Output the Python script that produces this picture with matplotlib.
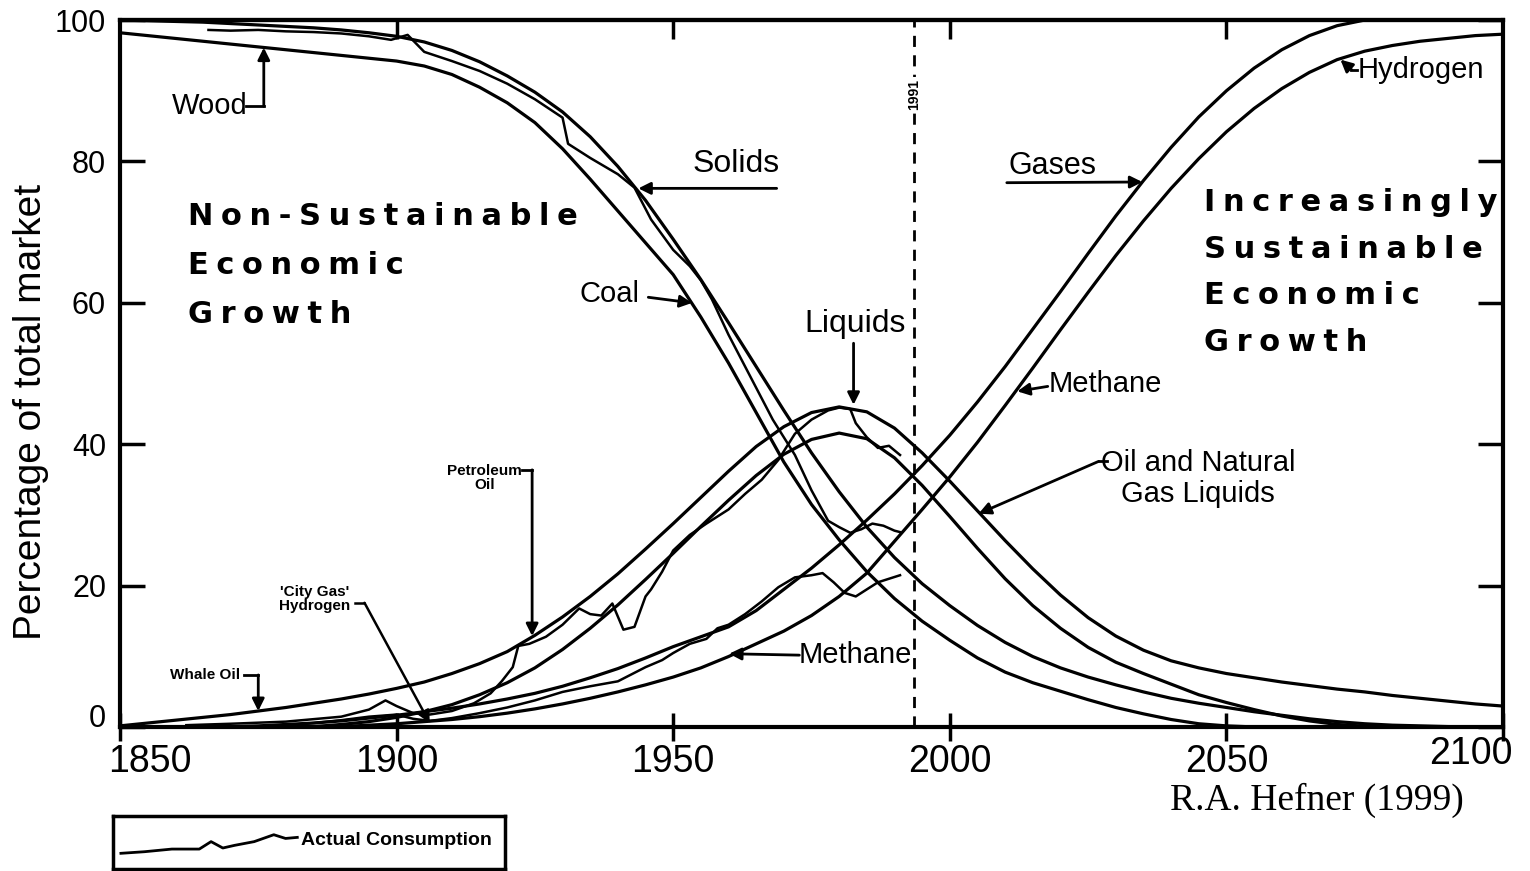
import numpy as np
import matplotlib
matplotlib.use('Agg')
import matplotlib.pyplot as plt
from matplotlib.transforms import ScaledTranslation

plt.rcParams['font.family'] = ['Liberation Sans', 'DejaVu Sans']

# model curves, read every 5 years 1850..2100
years = np.arange(1850, 2101, 5)

solids = [100, 99.9, 99.8, 99.7, 99.5, 99.3, 99.1, 98.9, 98.6, 98.2,
          97.7, 96.9, 95.7, 94.1, 92.1, 89.8, 87.0, 83.5, 79.3, 74.5,
          69.0, 63.3, 57.2, 51.0, 44.8, 38.8, 33.3, 28.3, 24.0, 20.3,
          17.2, 14.4, 12.0, 10.0, 8.4, 7.1, 6.0, 5.0, 4.1, 3.4,
          2.8, 2.2, 1.7, 1.2, 0.8, 0.5, 0.3, 0.2, 0.1, 0.05, 0]

coal = [98.2, 97.8, 97.4, 97.0, 96.6, 96.2, 95.8, 95.4, 95.0, 94.6,
        94.2, 93.5, 92.3, 90.5, 88.3, 85.5, 81.8, 77.5, 73.0, 68.5,
        64.0, 58.0, 51.5, 44.5, 37.5, 31.5, 26.5, 22.0, 18.2, 15.0,
        12.3, 9.8, 7.8, 6.3, 5.1, 3.9, 2.8, 1.9, 1.1, 0.5,
        0.2, 0.05, 0, 0, 0, 0, 0, 0, 0, 0, 0]

liquids = [0.2, 0.6, 1.0, 1.4, 1.8, 2.3, 2.8, 3.4, 4.0, 4.7,
           5.5, 6.4, 7.6, 9.0, 10.7, 13.0, 15.6, 18.5, 21.7, 25.2,
           28.8, 32.5, 36.2, 39.7, 42.5, 44.5, 45.3, 44.6, 42.3, 38.8,
           34.8, 30.6, 26.4, 22.4, 18.7, 15.5, 12.9, 10.9, 9.4, 8.4,
           7.6, 7.0, 6.4, 5.9, 5.4, 5.0, 4.5, 4.1, 3.7, 3.3, 3.0]

oil_ngl = [0, 0, 0, 0, 0, 0, 0, 0.1, 0.4, 0.8,
           1.4, 2.2, 3.2, 4.6, 6.3, 8.4, 11.0, 14.0, 17.3, 20.9,
           24.6, 28.4, 32.1, 35.6, 38.6, 40.7, 41.6, 40.8, 38.1, 34.2,
           29.8, 25.3, 21.0, 17.2, 14.0, 11.3, 9.2, 7.6, 6.1, 4.6,
           3.5, 2.5, 1.6, 0.9, 0.4, 0.15, 0.05, 0, 0, 0, 0]

gases = [0, 0, 0, 0, 0.1, 0.2, 0.4, 0.6, 0.9, 1.3,
         1.7, 2.2, 2.7, 3.3, 4.0, 4.8, 5.8, 7.0, 8.3, 9.8,
         11.4, 12.8, 14.2, 16.5, 19.5, 22.5, 25.8, 29.3, 33.0, 37.0,
         41.3, 46.0, 51.0, 56.3, 61.6, 67.0, 72.3, 77.3, 82.0, 86.3,
         90.0, 93.2, 95.8, 97.8, 99.2, 100, 100, 100, 100, 100, 100]

methane = [0, 0, 0, 0, 0, 0, 0, 0, 0.1, 0.3,
           0.5, 0.8, 1.1, 1.5, 2.0, 2.6, 3.3, 4.1, 5.0, 6.0,
           7.1, 8.4, 10.0, 11.8, 13.6, 15.8, 18.5, 21.8, 26.3, 30.8,
           35.4, 40.3, 45.5, 50.8, 56.2, 61.5, 66.7, 71.6, 76.2, 80.4,
           84.2, 87.5, 90.3, 92.6, 94.4, 95.6, 96.4, 97.0, 97.4, 97.8, 98.0]

# actual consumption (historical, to 1991)
solids_act_years = [1866, 1870, 1875, 1880, 1885, 1890, 1895, 1899, 1902, 1905,
                    1910, 1915, 1920, 1925, 1930, 1931, 1935, 1940, 1943, 1946,
                    1950, 1953, 1955, 1957, 1960, 1964, 1968, 1972, 1975, 1978,
                    1980, 1982, 1984, 1986, 1988, 1990, 1991]
solids_act = [98.6, 98.5, 98.6, 98.4, 98.3, 98.1, 97.7, 97.2, 97.9, 95.5,
              94.2, 92.8, 91.0, 88.8, 86.2, 82.5, 80.5, 78.2, 76.3, 71.8,
              67.5, 65.2, 63.2, 60.5, 55.5, 49.5, 43.5, 38.5, 33.5, 29.2,
              28.3, 27.5, 28.0, 28.8, 28.5, 27.8, 27.6]

liquids_act_years = [1862, 1870, 1880, 1890, 1895, 1898, 1900, 1903, 1906, 1910,
                     1914, 1917, 1919, 1921, 1922, 1924, 1927, 1930, 1933, 1935,
                     1937, 1939, 1941, 1943, 1945, 1946, 1948, 1950, 1953, 1956,
                     1960, 1963, 1966, 1969, 1972, 1975, 1978, 1980, 1982, 1983,
                     1985, 1987, 1989, 1991]
liquids_act = [0.3, 0.5, 0.8, 1.5, 2.5, 3.8, 3.0, 2.0, 1.8, 2.3,
               3.4, 4.8, 6.5, 8.5, 11.5, 11.8, 12.8, 14.5, 16.8, 16.0,
               15.8, 17.5, 13.8, 14.2, 18.5, 19.5, 22.0, 25.0, 27.2, 28.8,
               30.8, 33.0, 35.0, 37.8, 41.5, 43.5, 44.8, 45.2, 45.0, 43.0,
               41.0, 39.5, 39.8, 38.5]

gases_act_years = [1880, 1885, 1890, 1895, 1900, 1903, 1906, 1910, 1915, 1920,
                   1925, 1930, 1935, 1940, 1945, 1948, 1950, 1953, 1956, 1958,
                   1960, 1963, 1966, 1969, 1972, 1975, 1977, 1979, 1981, 1983,
                   1985, 1987, 1989, 1991]
gases_act = [0.3, 0.6, 1.0, 1.5, 1.8, 1.2, 0.9, 1.3, 2.0, 2.8,
             3.8, 5.0, 5.8, 6.5, 8.5, 9.5, 10.5, 11.8, 12.5, 14.0,
             14.5, 16.0, 17.8, 19.8, 21.2, 21.5, 21.8, 20.5, 19.0, 18.5,
             19.5, 20.5, 21.0, 21.5]

# little sample squiggle drawn in the legend box
legend_x = [0.02, 0.08, 0.15, 0.22, 0.25, 0.28, 0.31, 0.36, 0.41, 0.44, 0.47]
legend_y = [0.30, 0.33, 0.38, 0.38, 0.52, 0.40, 0.45, 0.52, 0.65, 0.58, 0.60]

xticks = [1850, 1900, 1950, 2000, 2050, 2100]
yticks = [0, 20, 40, 60, 80, 100]

fig = plt.figure(figsize=(15.3, 8.71), dpi=100)
ax = fig.add_axes([0.0784, 0.165, 0.904, 0.812])

for s in [solids, coal, liquids, oil_ngl, gases, methane]:
    ax.plot(years, s, color='black', lw=2.3, solid_capstyle='round')
ax.plot(solids_act_years, solids_act, color='black', lw=1.8)
ax.plot(liquids_act_years, liquids_act, color='black', lw=1.8)
ax.plot(gases_act_years, gases_act, color='black', lw=1.8)

ax.axvline(1993.5, color='black', lw=2, ls=(0, (4, 3)))
ax.text(1993.5, 89.5, '1991', rotation=90, ha='center', va='center',
        fontsize=10, fontweight='bold',
        bbox=dict(facecolor='white', edgecolor='none', pad=1))

ax.set_xlim(1850, 2100)
ax.set_ylim(0, 100)
ax.set_xticks(xticks)
ax.set_yticks(yticks)
ax.tick_params(axis='y', direction='in', length=18, width=2.5, right=True,
               labelsize=22, pad=10)
ax.tick_params(axis='x', direction='inout', length=20, width=2.5, top=False,
               labelsize=27, pad=2)
for sp in ax.spines.values():
    sp.set_linewidth(3)

# short inward ticks along the top
top = ax.secondary_xaxis('top')
top.set_xticks(xticks[1:-1])
top.tick_params(direction='in', length=14, width=2.5, labeltop=False)
top.spines['top'].set_linewidth(3)

# nudge edge labels the way the original has them
lbl0 = ax.get_yticklabels()[0]
lbl0.set_transform(lbl0.get_transform() + ScaledTranslation(0, 12 / 100, fig.dpi_scale_trans))
xl = ax.get_xticklabels()
xl[0].set_transform(xl[0].get_transform() + ScaledTranslation(30 / 100, 0, fig.dpi_scale_trans))
xl[-1].set_transform(xl[-1].get_transform() + ScaledTranslation(-32 / 100, 8 / 100, fig.dpi_scale_trans))

fig.text(0.02, 0.527, 'Percentage of total market', rotation=90,
         ha='center', va='center', fontsize=28)


def arrow(tail, tip, lw=2):
    ax.annotate('', xy=tip, xytext=tail,
                arrowprops=dict(arrowstyle='-|>', color='black', lw=lw,
                                mutation_scale=18, shrinkA=0, shrinkB=0))


# curve labels
ax.text(1866.3, 87.8, 'Wood', ha='center', va='center', fontsize=21)
ax.plot([1872.8, 1876], [87.8, 87.8], color='black', lw=2)
arrow((1876, 87.8), (1876, 96.1))

ax.text(1961.4, 79.6, 'Solids', ha='center', va='center', fontsize=23)
arrow((1968.7, 76.2), (1943.7, 76.2))

ax.text(1938.4, 61.3, 'Coal', ha='center', va='center', fontsize=21)
arrow((1945.5, 60.8), (1953.4, 60.0))

ax.text(1982.8, 57.0, 'Liquids', ha='center', va='center', fontsize=23)
arrow((1982.6, 54.3), (1982.6, 45.6))

ax.text(2018.5, 79.4, 'Gases', ha='center', va='center', fontsize=22)
arrow((2010.3, 77.0), (2034.8, 77.1))

ax.text(2073.8, 93.0, 'Hydrogen', ha='left', va='center', fontsize=21)
ax.plot([2073.6, 2072.6], [93.0, 93.0], color='black', lw=2)
arrow((2072.6, 93.0), (2070.6, 94.4))

ax.text(2017.9, 48.5, 'Methane', ha='left', va='center', fontsize=21)
arrow((2017.7, 48.2), (2012.2, 47.5))

ax.text(2044.9, 35.2, 'Oil and Natural\nGas Liquids', ha='center', va='center',
        fontsize=21, linespacing=1.15)
ax.plot([2028.5, 2026.9], [37.6, 37.6], color='black', lw=2)
arrow((2026.9, 37.6), (2005.2, 30.2))

ax.text(1972.6, 10.2, 'Methane', ha='left', va='center', fontsize=21)
arrow((1972.8, 10.2), (1960.1, 10.4))

ax.text(1915.9, 35.2, 'Petroleum\nOil', ha='center', va='center', fontsize=11,
        fontweight='bold', linespacing=1.0)
ax.plot([1922.6, 1924.5], [36.4, 36.4], color='black', lw=2)
arrow((1924.5, 36.4), (1924.5, 12.9))

ax.text(1885.2, 18.2, "'City Gas'\nHydrogen", ha='center', va='center',
        fontsize=11, fontweight='bold', linespacing=1.0)
ax.plot([1892.4, 1894.2], [17.6, 17.6], color='black', lw=1.8)
arrow((1894.2, 17.6), (1906.0, 0.6), lw=1.8)

ax.text(1865.3, 7.4, 'Whale Oil', ha='center', va='center', fontsize=11,
        fontweight='bold')
ax.plot([1872.4, 1875], [7.4, 7.4], color='black', lw=2)
arrow((1875, 7.4), (1875, 2.3))

# big spaced captions
gap = '\u2005'
def spaced(txt):
    return '\n'.join(gap.join(line) for line in txt.split('\n'))

ax.text(1862.3, 65.3, spaced('Non-Sustainable\nEconomic\nGrowth'),
        ha='left', va='center', fontsize=22, fontweight='bold',
        family=['DejaVu Sans'], linespacing=1.86)
ax.text(2045.9, 64.3, spaced('Increasingly\nSustainable\nEconomic\nGrowth'),
        ha='left', va='center', fontsize=22, fontweight='bold',
        family=['DejaVu Sans'], linespacing=1.76)

# legend box
lax = fig.add_axes([0.0739, 0.002, 0.2562, 0.061])
lax.set_xlim(0, 1)
lax.set_ylim(0, 1)
lax.set_xticks([])
lax.set_yticks([])
for s in lax.spines.values():
    s.set_linewidth(2.5)
lax.plot(legend_x, legend_y, color='black', lw=2)
lax.text(0.48, 0.55, 'Actual Consumption', ha='left', va='center',
         fontsize=14, fontweight='bold')

fig.text(0.861, 0.0815, 'R.A. Hefner (1999)', ha='center', va='center',
         fontsize=27, family=['Liberation Serif'])

fig.savefig('out.png', dpi=100)
